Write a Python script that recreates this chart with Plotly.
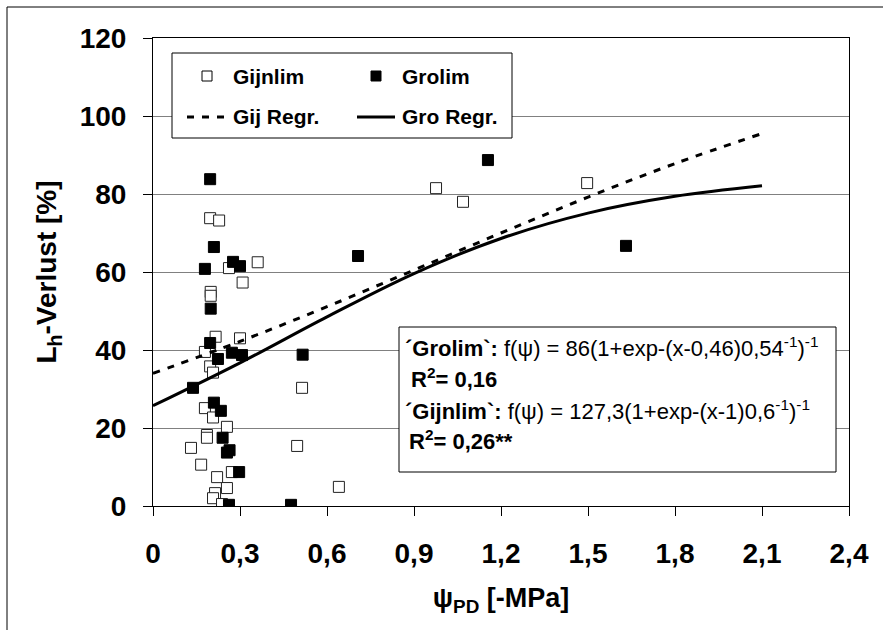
import plotly.graph_objects as go

# ---------------- data ----------------
gij_x = [0.197, 0.228, 0.262, 0.361, 0.309, 0.199, 0.199, 0.216, 0.300, 0.179,
         0.197, 0.207, 0.514, 0.179, 0.207, 0.255, 0.186, 0.186, 0.131, 0.497,
         0.166, 0.272, 0.221, 0.255, 0.641, 0.214, 0.207, 0.238, 0.976, 1.069, 1.497]
gij_y = [73.8, 73.2, 61.0, 62.5, 57.3, 54.9, 53.9, 43.4, 43.0, 39.5,
         35.8, 34.2, 30.3, 25.1, 22.7, 20.3, 18.2, 17.5, 14.9, 15.4,
         10.6, 8.7, 7.4, 4.6, 4.9, 3.3, 2.0, 0.5, 81.5, 78.0, 82.8]

gro_x = [0.197, 0.210, 0.179, 0.276, 0.300, 0.707, 0.199, 0.197, 0.272, 0.307,
         0.224, 0.516, 0.138, 0.210, 0.234, 0.240, 0.255, 0.264, 0.297, 0.262,
         0.476, 1.155, 1.631]
gro_y = [83.8, 66.4, 60.8, 62.6, 61.5, 64.1, 50.6, 41.8, 39.3, 38.7,
         37.7, 38.8, 30.3, 26.5, 24.4, 17.5, 13.7, 14.3, 8.7, 0.3,
         0.3, 88.7, 66.7]

reg_x = [0, 0.3, 0.6, 0.9, 1.2, 1.5, 1.8, 2.1]
gij_reg_y = [34.0, 42.2, 51.1, 60.5, 70.0, 79.2, 87.8, 95.5]
gro_reg_y = [25.7, 36.7, 48.5, 59.6, 68.6, 75.1, 79.4, 82.1]

x_tickvals = [0, 0.3, 0.6, 0.9, 1.2, 1.5, 1.8, 2.1, 2.4]
x_ticktext = ["0", "0,3", "0,6", "0,9", "1,2", "1,5", "1,8", "2,1", "2,4"]
y_tickvals = [0, 20, 40, 60, 80, 100, 120]

legend_names = ["Gijnlim", "Grolim", "Gij Regr.", "Gro Regr."]
eq_lines = [
    "<b>´Grolim`:</b> f(ψ) = 86(1+exp-(x-0,46)0,54<sup>-1</sup>)<sup>-1</sup>",
    "<b>R<sup>2</sup>= 0,16</b>",
    "<b>´Gijnlim`:</b> f(ψ) = 127,3(1+exp-(x-1)0,6<sup>-1</sup>)<sup>-1</sup>",
    "<b>R<sup>2</sup>= 0,26**</b>",
]

# ---------------- figure ----------------
FONT = "Liberation Sans, Arial, sans-serif"
W, H = 883, 630
L, R, T, B = 153, 34, 38, 124
PW, PH = W - L - R, H - T - B


def px(x):
    return (x - L) / PW


def py(y):
    return (H - B - y) / PH


fig = go.Figure()
fig.add_trace(go.Scatter(x=gij_x, y=gij_y, mode="markers", name=legend_names[0],
                         marker=dict(symbol="square", size=11, color="white",
                                     line=dict(color="#222", width=1))))
fig.add_trace(go.Scatter(x=gro_x, y=gro_y, mode="markers", name=legend_names[1],
                         marker=dict(symbol="square", size=11, color="black",
                                     line=dict(color="black", width=1))))
fig.add_trace(go.Scatter(x=reg_x, y=gij_reg_y, mode="lines", name=legend_names[2],
                         line=dict(color="black", width=3, dash="7px,8px", shape="spline")))
fig.add_trace(go.Scatter(x=reg_x, y=gro_reg_y, mode="lines", name=legend_names[3],
                         line=dict(color="black", width=3, shape="spline")))

shapes = []
# outer frame (left and top visible)
shapes.append(dict(type="line", xref="paper", yref="paper", x0=px(7), x1=px(W + 5),
                   y0=py(7), y1=py(7), line=dict(color="black", width=1)))
shapes.append(dict(type="line", xref="paper", yref="paper", x0=px(7), x1=px(7),
                   y0=py(7), y1=py(H + 5), line=dict(color="black", width=1)))
# legend box
shapes.append(dict(type="rect", xref="paper", yref="paper", x0=px(172), x1=px(512),
                   y0=py(138), y1=py(53), fillcolor="white",
                   line=dict(color="black", width=1)))
# legend samples
shapes.append(dict(type="rect", xref="paper", yref="paper", x0=px(202), x1=px(212),
                   y0=py(81), y1=py(71), fillcolor="white", line=dict(color="black", width=1)))
shapes.append(dict(type="rect", xref="paper", yref="paper", x0=px(371), x1=px(381),
                   y0=py(81), y1=py(71), fillcolor="black", line=dict(color="black", width=1)))
shapes.append(dict(type="line", xref="paper", yref="paper", x0=px(187), x1=px(228),
                   y0=py(117), y1=py(117), line=dict(color="black", width=3, dash="7px,8px")))
shapes.append(dict(type="line", xref="paper", yref="paper", x0=px(357), x1=px(395),
                   y0=py(117), y1=py(117), line=dict(color="black", width=3)))
# equation box
shapes.append(dict(type="rect", xref="paper", yref="paper", x0=px(399), x1=px(836),
                   y0=py(472), y1=py(327), fillcolor="white",
                   line=dict(color="black", width=1)))

annotations = []
leg_pos = [(231, 76), (400, 76), (231, 117), (400, 117)]
for name, (lx, ly) in zip(legend_names, leg_pos):
    annotations.append(dict(xref="paper", yref="paper", x=px(lx), y=py(ly), text=name,
                            showarrow=False, xanchor="left", yanchor="middle",
                            font=dict(family=FONT, size=21, color="black", weight="bold")))
eq_pos = [(403, 347), (409, 378), (403, 410), (407, 440)]
for txt, (ex, ey) in zip(eq_lines, eq_pos):
    annotations.append(dict(xref="paper", yref="paper", x=px(ex), y=py(ey), text=txt,
                            showarrow=False, xanchor="left", yanchor="middle",
                            font=dict(family=FONT, size=22, color="black")))

fig.update_layout(
    width=W, height=H,
    margin=dict(l=L, r=R, t=T, b=B, pad=0),
    paper_bgcolor="white", plot_bgcolor="white",
    showlegend=False,
    font=dict(family=FONT, color="black"),
    shapes=shapes, annotations=annotations,
    xaxis=dict(range=[0, 2.4], tickvals=x_tickvals, ticktext=x_ticktext,
               showgrid=False, zeroline=False, showline=True, linecolor="black",
               linewidth=1, mirror=True, ticks="outside", ticklen=9, tickcolor="black",
               ticklabelstandoff=13,
               tickfont=dict(family=FONT, size=28, color="black", weight="bold"),
               title=dict(text="ψ<sub>PD</sub> [-MPa]", standoff=20,
                          font=dict(family=FONT, size=27, color="black", weight="bold"))),
    yaxis=dict(range=[0, 120], tickvals=y_tickvals,
               showgrid=True, gridcolor="#808080", gridwidth=1, zeroline=False,
               showline=True, linecolor="black", linewidth=1, mirror=True,
               ticks="outside", ticklen=9, tickcolor="black", ticklabelstandoff=11,
               tickfont=dict(family=FONT, size=28, color="black", weight="bold"),
               title=dict(text="L<sub>h</sub>-Verlust [%]", standoff=14,
                          font=dict(family=FONT, size=28, color="black", weight="bold"))),
)

fig.write_html("out.html")
